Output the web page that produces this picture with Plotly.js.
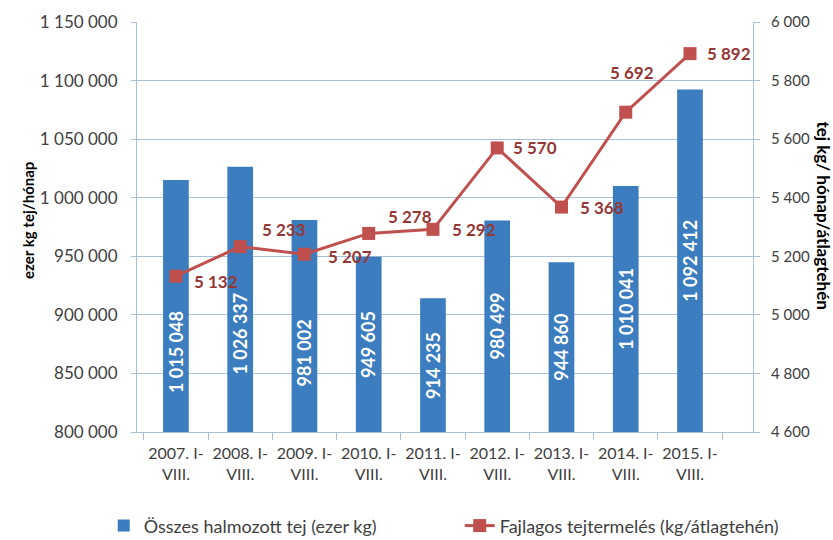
<!DOCTYPE html>
<html><head><meta charset="utf-8">
<script src="https://cdn.plot.ly/plotly-3.0.1.min.js"></script>
<style>html,body{margin:0;padding:0;background:#fff}#chart{width:833px;height:540px}</style>
</head><body><div id="chart"></div>
<script>
const categories = ["2007. I-<br>VIII.","2008. I-<br>VIII.","2009. I-<br>VIII.","2010. I-<br>VIII.","2011. I-<br>VIII.","2012. I-<br>VIII.","2013. I-<br>VIII.","2014. I-<br>VIII.","2015. I-<br>VIII."];
const totalMilk = [1015048,1026337,981002,949605,914235,980499,944860,1010041,1092412];
const perCow = [5132,5233,5207,5278,5292,5570,5368,5692,5892];

// label placement offsets (pixels) - styling only
const barLabelShiftY = [-46,-34,-27,0,0,0,0,0,0];
const lineLabelShiftX = [40,44,46,41,41,38,41,6,39];
const lineLabelShiftY = [-5,17,-2,17,0,0,0,40,0];

const fmt = v => String(v).replace(/\B(?=(\d{3})+(?!\d))/g, " ");
const font = "Lato, 'Open Sans', sans-serif";
const gridc = "#a9bfd8";

const bars = {
  type:"bar", x:categories, y:totalMilk, name:"Összes halmozott tej (ezer kg)",
  marker:{color:"#3b7dbf"}, hoverinfo:"none"
};
const line = {
  type:"scatter", mode:"lines+markers", x:categories, y:perCow, yaxis:"y2",
  name:"Fajlagos tejtermelés (kg/átlagtehén)",
  line:{color:"#c0504d", width:3}, marker:{symbol:"square", size:13, color:"#c0504d"},
  hoverinfo:"none", cliponaxis:false
};

const annotations = [];
categories.forEach((c, i) => {
  annotations.push({x:c, y:(800000 + totalMilk[i]) / 2, xref:"x", yref:"y", text:fmt(totalMilk[i]),
    textangle:-90, showarrow:false, yshift:barLabelShiftY[i],
    font:{color:"#ffffff", size:18, family:font, weight:"bold"}});
  annotations.push({x:c, y:perCow[i], xref:"x", yref:"y2", text:fmt(perCow[i]),
    showarrow:false, xshift:lineLabelShiftX[i], yshift:lineLabelShiftY[i],
    font:{color:"#953735", size:17, family:font, weight:"bold"}});
});
annotations.push({text:"ezer kg tej/hónap", textangle:-90, xref:"paper", yref:"paper",
  x:-0.195, y:0.517, showarrow:false, font:{size:15, color:"#000", weight:"bold", family:font}});
annotations.push({text:"tej kg/ hónap/átlagtehén", textangle:90, xref:"paper", yref:"paper",
  x:1.135, y:0.529, showarrow:false, font:{size:17, color:"#000", weight:"bold", family:font}});

const layout = {
  width:833, height:540, separators:", ",
  margin:{l:137, r:80, t:22, b:108, autoexpand:false},
  paper_bgcolor:"#fff", plot_bgcolor:"#fff",
  font:{family:font, color:"#404040", size:14},
  bargap:0.6, showlegend:true,
  xaxis:{type:"category", tickson:"boundaries", ticks:"outside", ticklen:7, tickcolor:gridc,
    showline:true, linecolor:gridc, showgrid:false, ticklabelstandoff:7, tickangle:0, automargin:false,
    tickfont:{size:16, color:"#404040"}},
  yaxis:{range:[800000,1150000], dtick:50000, tickformat:",", showgrid:true, gridcolor:gridc,
    showline:true, linecolor:gridc, ticks:"outside", ticklen:5, tickcolor:gridc, zeroline:false,
    automargin:false, ticklabelstandoff:10, tickfont:{size:17, color:"#404040"}},
  yaxis2:{range:[4600,6000], dtick:200, tickformat:",", overlaying:"y", side:"right", showgrid:false,
    showline:true, linecolor:gridc, ticks:"outside", ticklen:6, tickcolor:gridc, zeroline:false,
    automargin:false, ticklabelstandoff:8, tickfont:{size:15, color:"#404040"}},
  legend:{orientation:"h", x:-0.054, y:-0.229, xanchor:"left", yanchor:"middle", entrywidth:311,
    font:{size:18, color:"#404040"}},
  annotations:annotations
};
Plotly.newPlot("chart", [bars, line], layout, {displayModeBar:false, staticPlot:true});
</script></body></html>
